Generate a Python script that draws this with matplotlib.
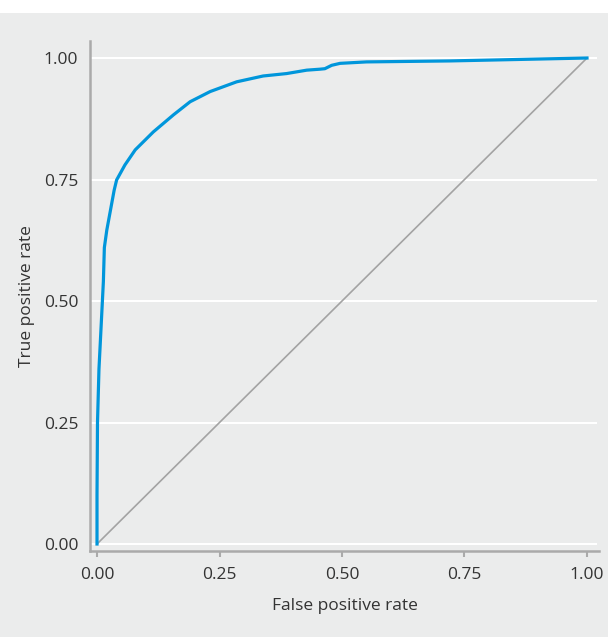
import matplotlib
matplotlib.use("Agg")
import matplotlib.pyplot as plt
from matplotlib.patches import Rectangle

# ROC curve
fpr = [0.0, 0.0, 0.001, 0.004, 0.011, 0.013, 0.015, 0.020, 0.035, 0.040, 0.057,
       0.078, 0.115, 0.156, 0.190, 0.231, 0.285, 0.339, 0.387, 0.428, 0.455,
       0.465, 0.479, 0.496, 0.550, 0.720, 1.0]
tpr = [0.0, 0.10, 0.25, 0.36, 0.50, 0.54, 0.61, 0.646, 0.728, 0.749, 0.780,
       0.811, 0.848, 0.883, 0.910, 0.931, 0.951, 0.963, 0.968, 0.975, 0.977,
       0.978, 0.985, 0.989, 0.992, 0.994, 1.0]
ticks = [0.0, 0.25, 0.5, 0.75, 1.0]
tick_labels = ["0.00", "0.25", "0.50", "0.75", "1.00"]

bg = "#ebecec"
spine = "#aaaaaa"
blue = "#0096db"
txt = "#333333"

plt.rcParams["font.family"] = ["Open Sans", "DejaVu Sans"]

fig = plt.figure(figsize=(6.08, 6.37), dpi=100, facecolor=bg)
# white strip along the top
fig.patches.append(Rectangle((0, 1 - 13 / 637), 1, 13 / 637, transform=fig.transFigure,
                             facecolor="white", edgecolor="none", zorder=-1))
ax = fig.add_axes([90 / 608, 86 / 637, 509 / 608, 510 / 637])
ax.set_facecolor(bg)

ax.plot([0, 1], [0, 1], color="#a3a3a3", lw=1.2, zorder=2)
ax.plot(fpr, tpr, color=blue, lw=2.3, solid_joinstyle="round", zorder=3)

ax.set_xlim(-0.0143, 1.0245)
ax.set_ylim(-0.0144, 1.035)
ax.set_xticks(ticks)
ax.set_xticklabels(tick_labels)
ax.set_yticks(ticks)
ax.set_yticklabels(tick_labels)

for y in ticks:
    ax.plot([-0.012, 1.018], [y, y], color="white", lw=1.5, zorder=1)

for s in ["top", "right"]:
    ax.spines[s].set_visible(False)
for s in ["left", "bottom"]:
    ax.spines[s].set_color(spine)
    ax.spines[s].set_linewidth(1.8)

ax.tick_params(axis="x", length=4.5, width=1.5, color=spine, labelsize=12.5,
               labelcolor=txt, pad=7)
ax.tick_params(axis="y", length=0, labelsize=12.5, labelcolor=txt, pad=8.5)

ax.set_xlabel("False positive rate", fontsize=12.5, color=txt, labelpad=11)
ax.set_ylabel("True positive rate", fontsize=12.5, color=txt, labelpad=6)

fig.savefig("out.png", dpi=100, facecolor=bg)
